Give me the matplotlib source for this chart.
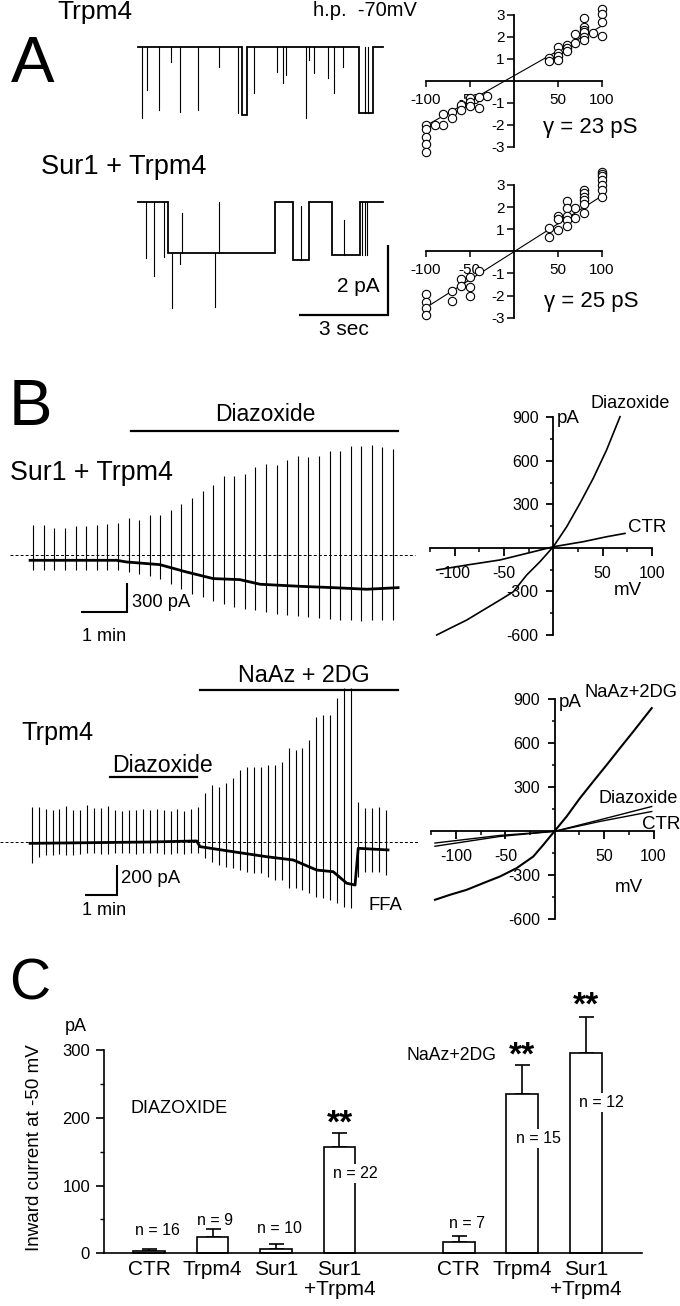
import numpy as np
import matplotlib
matplotlib.use("Agg")
import matplotlib.pyplot as plt
from matplotlib import transforms

plt.rcParams['font.family'] = ['Liberation Sans', 'DejaVu Sans']
plt.rcParams['axes.unicode_minus'] = False

# ---------------- DATA ----------------
# Panel A: single-channel records (time s, current pA); step levels + brief transients
a1_seg_t = [0.0, 3.49, 3.68, 7.45, 7.92]
a1_seg_i = [0.0, -1.93, 0.0, -1.89, 0.0]
a1_trans_t = [0.12, 0.29, 0.72, 1.10, 1.43, 2.01, 2.73, 3.38, 3.92, 4.67, 4.89, 4.98,
              5.66, 5.77, 5.92, 6.41, 6.61, 6.89, 7.63, 7.75]
a1_trans_i = [-2.03, -1.22, -1.79, -0.41, -1.84, -1.79, -0.55, -1.89, -1.31, -0.70, -1.03, -0.79,
              -2.03, -0.36, -0.74, -0.89, -1.31, -0.55, 0.0, 0.0]
a2_seg_t = [0.0, 1.02, 4.61, 5.23, 5.77, 6.52, 7.47]
a2_seg_i = [0.0, -1.46, 0.0, -1.65, 0.0, -1.50, 0.0]
a2_trans_t = [0.26, 0.54, 0.88, 1.13, 1.41, 1.47, 2.59, 2.72, 5.50, 6.95, 7.53, 7.64, 7.72]
a2_trans_i = [-1.60, -2.12, -1.55, -3.03, -1.75, -0.30, -2.98, 0.0, -0.10, -0.50, -1.50, -1.50, -1.50]
a_trace_end = 8.24

# Panel A: unitary I-V (mV, pA)
iva1_mv = [100, 100, 100, 100, 90, 80, 80, 80, 80, 80, 80, 70, 70, 60, 60, 60, 50, 50, 50, 50,
           40, 40, -30, -40, -40, -50, -50, -50, -60, -60, -70, -70, -80, -80, -90,
           -100, -100, -100, -100, -100]
iva1_pa = [3.26, 3.05, 2.70, 2.04, 2.17, 2.85, 2.47, 2.32, 2.21, 2.01, 1.86, 2.12, 1.74, 1.63, 1.48, 1.37,
           1.56, 1.25, 1.13, 0.95, 1.03, 0.90, -0.71, -0.72, -1.22, -0.80, -0.98, -1.15, -1.10, -1.33,
           -1.41, -1.71, -1.51, -2.01, -2.01, -2.01, -2.20, -2.54, -2.89, -3.23]
iva1_fit_mv = [-100, 100]
iva1_fit_pa = [-2.05, 2.50]
iva2_mv = [100, 100, 100, 100, 100, 100, 100, 80, 80, 80, 80, 80, 80, 70, 70, 60, 60, 60, 60, 60,
           50, 50, 50, 40, 40, -40, -50, -50, -50, -60, -60, -70, -70, -100, -100, -100, -100]
iva2_pa = [3.60, 3.50, 3.40, 3.23, 3.00, 2.78, 2.47, 2.78, 2.62, 2.47, 2.32, 2.14, 1.72, 1.95, 1.49,
           2.29, 1.95, 1.60, 1.42, 1.15, 1.60, 1.45, 0.97, 1.07, 0.66, -0.87, -1.18, -1.60, -2.02,
           -1.27, -1.57, -1.78, -2.23, -1.93, -2.28, -2.58, -2.88]
iva2_fit_mv = [-100, 100]
iva2_fit_pa = [-2.55, 2.50]

# Panel B top: Sur1+Trpm4 whole-cell record (min, pA)
b1_ramp_interval = 0.23
b1_base_t = [-0.07, 1.81, 2.03, 2.75, 3.33, 3.91, 4.49, 4.93, 5.80, 6.52, 7.25, 7.93]
b1_base_i = [-53, -53, -71, -99, -177, -247, -258, -307, -329, -343, -360, -343]
b1_top = [325, 318, 293, 290, 307, 311, 318, 336, 343, 396, 371, 431, 424, 477, 548, 608, 682, 749,
          841, 841, 866, 937, 972, 961, 1007, 1050, 1043, 1050, 1106, 1103, 1160, 1156, 1173, 1149, 1131]
b1_bot = [-152, -152, -152, -152, -152, -152, -152, -152, -152, -177, -194, -223, -247, -300, -353,
          -406, -442, -484, -512, -548, -565, -583, -601, -618, -636, -647, -654, -661, -671, -682,
          -689, -696, -689, -682, -682]
b1_drug = (2.12, 7.93)

# Panel B bottom: Trpm4 whole-cell record (min, pA)
b2_ramp_interval = 0.219
b2_base_t = [-0.05, 3.73, 5.20, 5.31, 6.36, 7.41, 8.25, 8.99, 9.51, 9.94, 10.20, 10.30, 11.24]
b2_base_i = [-7, 2, 9, -29, -63, -96, -118, -185, -196, -273, -285, -40, -51]
b2_top = [237, 237, 220, 215, 220, 242, 215, 215, 249, 227, 227, 242, 215, 211, 215, 215, 220, 215,
          220, 215, 211, 220, 211, 220, 233,
          327, 382, 371, 398, 427, 482, 504, 504, 504, 515, 515, 537, 627, 615, 627, 682, 837, 849,
          849, 960, 1027, 1027,
          271, 227, 227, 237, 215]
b2_bot = [-140, -96, -85, -85, -78, -85, -85, -78, -73, -73, -78, -78, -73, -73, -73, -78, -73, -73,
          -73, -78, -78, -73, -78, -73, -73,
          -107, -129, -151, -162, -173, -184, -196, -207, -207, -229, -251, -251, -307, -307, -318,
          -340, -362, -373, -384, -407, -429, -440,
          -229, -196, -196, -196, -218]
b2_diaz = (2.47, 5.20)
b2_naaz = (5.31, 11.56)

# Panel B: ramp I-V curves (mV, pA)
ivb1_diaz_mv = [-118.1, -104.7, -87.7, -70.9, -54.0, -40.5, -27.0, -13.5, 0.0, 13.6, 27.0, 40.5, 54.0, 67.6]
ivb1_diaz_pa = [-600, -554, -497, -428, -359, -302, -187, -95, 8, 146, 307, 480, 675, 904]
ivb1_ctr_mv = [-118.1, -87.7, -54.0, -20.0, 0.0, 30.4, 54.0, 72.6]
ivb1_ctr_pa = [-152, -118, -83, -26, 8, 43, 77, 100]
ivb2_naaz_mv = [-121.4, -106.2, -89.3, -72.4, -55.5, -38.6, -21.8, -11.6, -0.5, 12.0, 25.5, 39.0,
                52.6, 66.0, 79.5, 98.2]
ivb2_naaz_pa = [-467, -433, -399, -353, -308, -251, -172, -92, -1, 101, 226, 340, 453, 567, 680, 840]
ivb2_diaz_mv = [-121.4, -55.5, 0.0, 45.6, 98.2]
ivb2_diaz_pa = [-80, -28, 0, 78, 169]
ivb2_ctr_mv = [-121.4, -55.5, 0.0, 45.6, 98.2]
ivb2_ctr_pa = [-102, -35, 0, 67, 135]

# Panel C: inward current at -50 mV
c_diaz_labels = ['CTR', 'Trpm4', 'Sur1', 'Sur1\n+Trpm4']
c_diaz_mean = [3, 24, 7, 157]
c_diaz_sem = [3, 12, 6, 20]
c_diaz_n = [16, 9, 10, 22]
c_naaz_labels = ['CTR', 'Trpm4', 'Sur1\n+Trpm4']
c_naaz_mean = [16, 235, 296]
c_naaz_sem = [10, 43, 53]
c_naaz_n = [7, 15, 12]

# ---------------- FIGURE ----------------
W, H = 680, 1306
fig = plt.figure(figsize=(W / 100, H / 100), dpi=100)


def px_axes(x0, y0, x1, y1):
    ax = fig.add_axes([x0 / W, 1 - y1 / H, (x1 - x0) / W, (y1 - y0) / H])
    ax.patch.set_visible(False)
    return ax


def mapped_axes(x0, y0, x1, y1, ox, sx, oy, sy):
    ax = px_axes(x0, y0, x1, y1)
    ax.set_xlim((x0 - ox) / sx, (x1 - ox) / sx)
    ax.set_ylim((oy - y1) / sy, (oy - y0) / sy)
    ax.axis('off')
    return ax


def level_at(t, seg_t, seg_i):
    lev = seg_i[0]
    for st, si in zip(seg_t, seg_i):
        if st <= t:
            lev = si
    return lev


def single_channel(ax, seg_t, seg_i, t_end, tr_t, tr_i):
    xs, ys = [], []
    for k in range(len(seg_t)):
        t1 = seg_t[k + 1] if k + 1 < len(seg_t) else t_end
        xs += [seg_t[k], t1]
        ys += [seg_i[k], seg_i[k]]
    ax.plot(xs, ys, color='k', lw=1.3, solid_joinstyle='miter')
    for t, i in zip(tr_t, tr_i):
        ax.plot([t, t], [level_at(t, seg_t, seg_i), i], color='k', lw=0.8)


def scale_bar(ax, x, y, dx, dy, lw=1.5):
    ax.plot([x - dx, x, x], [y, y, y + dy], color='k', lw=lw, solid_joinstyle='miter',
            solid_capstyle='butt', clip_on=False)


def whole_cell(ax, base_t, base_i, interval, tops, bots):
    ts = np.arange(len(tops)) * interval
    ax.vlines(ts, bots, tops, color='k', lw=0.8)
    ax.plot(base_t, base_i, color='k', lw=2.0, solid_joinstyle='round')


def iv_axes(x0, y0, x1, y1, xlim, ylim):
    ax = px_axes(x0, y0, x1, y1)
    ax.set_xlim(*xlim)
    ax.set_ylim(*ylim)
    for s in ['top', 'right']:
        ax.spines[s].set_visible(False)
    ax.spines['left'].set_position(('data', 0))
    ax.spines['bottom'].set_position(('data', 0))
    ax.spines['left'].set_bounds(*ylim)
    ax.spines['bottom'].set_bounds(*xlim)
    for s in ['left', 'bottom']:
        ax.spines[s].set_linewidth(1.3)
    return ax


# ---- Panel A traces ----
axa1 = mapped_axes(130, 25, 400, 135, 138, 29.7, 47.3, 35)
single_channel(axa1, a1_seg_t, a1_seg_i, a_trace_end, a1_trans_t, a1_trans_i)
axa2 = mapped_axes(130, 180, 400, 330, 138, 29.7, 202.3, 35)
single_channel(axa2, a2_seg_t, a2_seg_i, a_trace_end, a2_trans_t, a2_trans_i)
scale_bar(axa2, 8.43, -3.22, 3.0, 2.0, lw=1.6)

# ---- Panel A I-V ----
for (y0, y1, mv, pa, fmv, fpa) in [(15, 146.7, iva1_mv, iva1_pa, iva1_fit_mv, iva1_fit_pa),
                                   (185, 317.7, iva2_mv, iva2_pa, iva2_fit_mv, iva2_fit_pa)]:
    ax = iv_axes(425.7, y0, 601.7, y1, (-100, 100), (-3, 3))
    ax.plot(fmv, fpa, color='k', lw=0.8, zorder=2)
    ax.plot(mv, pa, 'o', ms=6, mfc='white', mec='k', mew=0.8, clip_on=False, zorder=3)
    ax.set_xticks([-100, -50, 50, 100])
    ax.set_yticks([-3, -2, -1, 1, 2, 3])
    ax.tick_params(axis='x', direction='out', length=4, width=1.1, pad=4.5, labelsize=11)
    ax.tick_params(axis='y', direction='out', length=5, width=1.1, pad=1.5, labelsize=11)

# ---- Panel B top trace ----
axb1 = mapped_axes(0, 395, 420, 640, 33.3, 46.0, 555.3, 0.0943)
axb1.plot([(10 - 33.3) / 46, (415 - 33.3) / 46], [0, 0], color='k', lw=0.7, dashes=(3, 2.2))
whole_cell(axb1, b1_base_t, b1_base_i, b1_ramp_interval, b1_top, b1_bot)
axb1.plot(b1_drug, [1318, 1318], color='k', lw=1.6)
scale_bar(axb1, 2.03, -598, 1.0, 300)

# ---- Panel B bottom trace ----
axb2 = mapped_axes(0, 660, 420, 930, 31.7, 31.7, 842.3, 0.15)
axb2.plot([-1.0, (420 - 31.7) / 31.7], [0, 0], color='k', lw=0.7, dashes=(3, 2.2))
whole_cell(axb2, b2_base_t, b2_base_i, b2_ramp_interval, b2_top, b2_bot)
axb2.plot(b2_diaz, [437, 437], color='k', lw=1.6)
axb2.plot(b2_naaz, [1015, 1015], color='k', lw=1.6)
scale_bar(axb2, 2.68, -351, 1.0, 200)

# ---- Panel B I-V ----
def iv_b(x0, y0, x1, y1):
    ax = iv_axes(x0, y0, x1, y1, (-125, 100), (-600, 900))
    ax.set_xticks([-100, -50, 50, 100])
    ax.set_xticks([-125, -75, -25, 25, 75], minor=True)
    ax.set_yticks([-600, -300, 300, 600, 900])
    ax.set_yticks([-450, -150, 150, 450, 750], minor=True)
    ax.tick_params(axis='x', which='major', direction='out', length=6, width=1.3, pad=7, labelsize=11.5)
    ax.tick_params(axis='x', which='minor', direction='out', length=3, width=1.1)
    ax.tick_params(axis='y', which='major', direction='out', length=5, width=1.3, pad=5.5, labelsize=11.5)
    ax.tick_params(axis='y', which='minor', direction='out', length=2.5, width=1.1)
    return ax

axiv1 = iv_b(429.9, 417.3, 652.0, 635.0)
axiv1.plot(ivb1_diaz_mv, ivb1_diaz_pa, color='k', lw=1.2, clip_on=False)
axiv1.plot(ivb1_ctr_mv, ivb1_ctr_pa, color='k', lw=1.2, clip_on=False)

axiv2 = iv_b(431.4, 699.3, 653.5, 919.3)
axiv2.plot(ivb2_naaz_mv, ivb2_naaz_pa, color='k', lw=1.5, clip_on=False)
axiv2.plot(ivb2_diaz_mv, ivb2_diaz_pa, color='k', lw=1.0, clip_on=False)
axiv2.plot(ivb2_ctr_mv, ivb2_ctr_pa, color='k', lw=1.0, clip_on=False)

# ---- Panel C bars ----
axc = px_axes(104, 1050, 641.7, 1253.3)
axc.set_ylim(0, 300)
axc.set_xlim(-0.709, 7.76)
group_gap = 4.88
pos_d = np.arange(len(c_diaz_mean), dtype=float)
pos_n = np.arange(len(c_naaz_mean), dtype=float) + group_gap
bw = 0.5
for pos, mean, sem in [(pos_d, c_diaz_mean, c_diaz_sem), (pos_n, c_naaz_mean, c_naaz_sem)]:
    eb = axc.errorbar(pos, mean, yerr=[np.zeros(len(sem)), sem], fmt='none', ecolor='k',
                      elinewidth=1.2, capsize=5.4, capthick=1.2, zorder=1)
    for a in list(eb[1]) + list(eb[2]):
        a.set_clip_on(False)
    bars = axc.bar(pos, mean, width=bw, facecolor='white', edgecolor='k', lw=1.2, zorder=2)
    for b in bars:
        b.set_clip_on(False)
for s in ['top', 'right']:
    axc.spines[s].set_visible(False)
axc.spines['left'].set_linewidth(1.2)
axc.spines['bottom'].set_linewidth(1.2)
axc.set_yticks([0, 100, 200, 300])
axc.set_yticks([50, 150, 250], minor=True)
axc.set_xticks([])
axc.tick_params(axis='y', which='major', direction='out', length=6, width=1.2, pad=4, labelsize=12)
axc.tick_params(axis='y', which='minor', direction='out', length=3, width=1.0)

# overlay for text in pixel coordinates
ov = fig.add_axes([0, 0, 1, 1])
ov.set_xlim(0, W)
ov.set_ylim(H, 0)
ov.axis('off')
ov.patch.set_visible(False)


def T(x, y, s, size, ha='left', **kw):
    ov.text(x, y, s, fontsize=size, ha=ha, va='baseline', **kw)


# Panel A text
T(11, 81.7, 'A', 47)
T(57, 19, 'Trpm4', 19)
T(313, 16, 'h.p.  -70mV', 14.5)
T(40.7, 174, 'Sur1 + Trpm4', 19.5)
T(336.7, 291.7, '2 pA', 15)
T(319.3, 335, '3 sec', 15)
T(543.3, 133.3, 'γ = 23 pS', 16)
T(544.3, 307.3, 'γ = 25 pS', 16)

# Panel B text
T(9, 425, 'B', 47)
T(215, 420.7, 'Diazoxide', 16.5)
T(10, 480, 'Sur1 + Trpm4', 19.3)
T(131.7, 607.3, '300 pA', 13.2)
T(81.7, 640.7, '1 min', 13)
T(590, 408.3, 'Diazoxide', 13)
T(556.7, 422.7, 'pA', 13.5)
T(627.7, 531.7, 'CTR', 13.5)
T(613.3, 595, 'mV', 13.5)
T(21.7, 740, 'Trpm4', 18.2)
T(238.3, 681.7, 'NaAz + 2DG', 16.8)
T(111.7, 771.7, 'Diazoxide', 16.6)
T(120.7, 883.3, '200 pA', 13.4)
T(81.7, 915, '1 min', 13)
T(368.3, 910, 'FFA', 13.3)
T(585, 696.7, 'NaAz+2DG', 13.2)
T(558.3, 706.7, 'pA', 13.5)
T(598.3, 803.3, 'Diazoxide', 13)
T(641.7, 829.3, 'CTR', 13.5)
T(615, 891.7, 'mV', 13.5)

# Panel C text
T(9, 1000, 'C', 41)
T(65, 1030.7, 'pA', 13)
ov.text(35, 1148, 'Inward current at -50 mV', fontsize=13.5, rotation=90, ha='center', va='center')
T(130, 1113.3, 'DIAZOXIDE', 13)
T(406, 1060, 'NaAz+2DG', 12.7)

bt = transforms.blended_transform_factory(axc.transData, ov.transData)
for pos, labels in [(pos_d, c_diaz_labels), (pos_n, c_naaz_labels)]:
    for p, lab in zip(pos, labels):
        lines = lab.split('\n')
        for k, line in enumerate(lines):
            ov.text(p, 1275 + 20 * k, line, fontsize=15, ha='center', va='baseline', transform=bt)

# n labels: above small bars, on the right edge for tall bars
n_above_dx = [0.14, 0.04, 0.05]
n_above_y = [1235, 1225, 1233]
for p, n, dx, y in zip(pos_d[:3], c_diaz_n[:3], n_above_dx, n_above_y):
    ov.text(p + dx, y, f'n = {n}', fontsize=11.5, ha='center', va='baseline', transform=bt)
ov.text(pos_n[0] + 0.13, 1228.3, f'n = {c_naaz_n[0]}', fontsize=11.5, ha='center', va='baseline',
        transform=bt)
box = dict(facecolor='white', edgecolor='none', pad=1.5)
for p, n, y in [(pos_d[3], c_diaz_n[3], 1178.3), (pos_n[1], c_naaz_n[1], 1143.3),
                (pos_n[2], c_naaz_n[2], 1106.7)]:
    ov.text(p + bw / 2, y, f'n = {n}', fontsize=11.5, ha='center', va='baseline', transform=bt,
            bbox=box, zorder=5)

for p, yc in [(pos_d[3], 1116), (pos_n[1], 1048), (pos_n[2], 997.5)]:
    ov.text(p, yc + 17, '**', fontsize=24, fontweight='bold', ha='center', va='baseline', transform=bt)

fig.savefig('out.png', dpi=100)
